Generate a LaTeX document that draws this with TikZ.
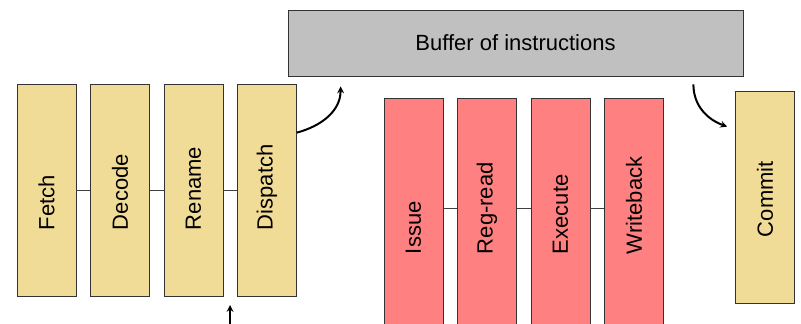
\documentclass[tikz,border=0pt]{standalone}
\usepackage{fontspec}
\setmainfont{Liberation Sans}
\usetikzlibrary{positioning, arrows, calc}

\definecolor{inorder}{RGB}{240,220,150}
\definecolor{outorder}{RGB}{255,128,128}
\definecolor{bufgray}{RGB}{192,192,192}
\newcommand{\stagelabel}[1]{\rotatebox{90}{\makebox[80pt][l]{#1}}}

\begin{document}
\begin{tikzpicture}[x=1pt, y=1pt,
    font=\fontsize{22}{24}\selectfont,
    node distance=13.7pt,
    stage/.style={draw=black!80, line width=0.8pt, inner sep=0pt, minimum width=59pt},
    front/.style={stage, fill=inorder, minimum height=212pt},
    back/.style={stage, fill=outorder, minimum height=232pt},
    link/.style={draw=black!75, line width=0.7pt},
    flow/.style={-stealth, line width=2pt}]
    \useasboundingbox (0,0) rectangle (801,-324);
    \clip (0,0) rectangle (801,-324);
    % in-order front end
    \node[front] (Fetch) at (46.5,-190) {\stagelabel{Fetch}};
    \node[front, right=of Fetch] (Decode) {\stagelabel{Decode}};
    \node[front, right=of Decode] (Rename) {\stagelabel{Rename}};
    \node[front, right=of Rename] (Dispatch) {\stagelabel{Dispatch}};
    \draw[link] (Fetch) -- (Decode);
    \draw[link] (Decode) -- (Rename);
    \draw[link] (Rename) -- (Dispatch);
    % buffer
    \node[draw=black!80, line width=0.8pt, fill=bufgray, minimum width=455pt, minimum height=66pt] (Buffer) at (515.5,-43) {Buffer of instructions};
    % out-of-order stages
    \node[back] (Issue) at (413.5,-214) {\stagelabel{Issue}};
    \node[back, right=of Issue] (RegRead) {\stagelabel{Reg-read}};
    \node[back, right=of RegRead] (Execute) {\stagelabel{Execute}};
    \node[back, right=of Execute] (Writeback) {\stagelabel{Writeback}};
    \foreach \a/\b in {Issue/RegRead, RegRead/Execute, Execute/Writeback}
    {
    \draw[link] ([yshift=6pt]\a.east) -- ([yshift=6pt]\b.west);
    }
    % retire
    \node[front] (Commit) at (765,-197) {\stagelabel{Commit}};
    % arrows
    \coordinate (DispOut) at ($(Dispatch.north east)+(0,-49)$);
    \coordinate (BufIn) at ($(Buffer.south west)+(53,-10)$);
    \coordinate (BufOut) at ($(Buffer.south east)+(-50,-8)$);
    \coordinate (CommitIn) at ($(Commit.north west)+(-8,-36)$);
    \coordinate (FeedTail) at (230,-330);
    \coordinate (FeedTip) at (230,-305);
    \draw[flow] (DispOut) to[out=15, in=-90] (BufIn);
    \draw[flow] (BufOut) to[out=-90, in=160] (CommitIn);
    \draw[flow] (FeedTail) -- (FeedTip);
\end{tikzpicture}
\end{document}
